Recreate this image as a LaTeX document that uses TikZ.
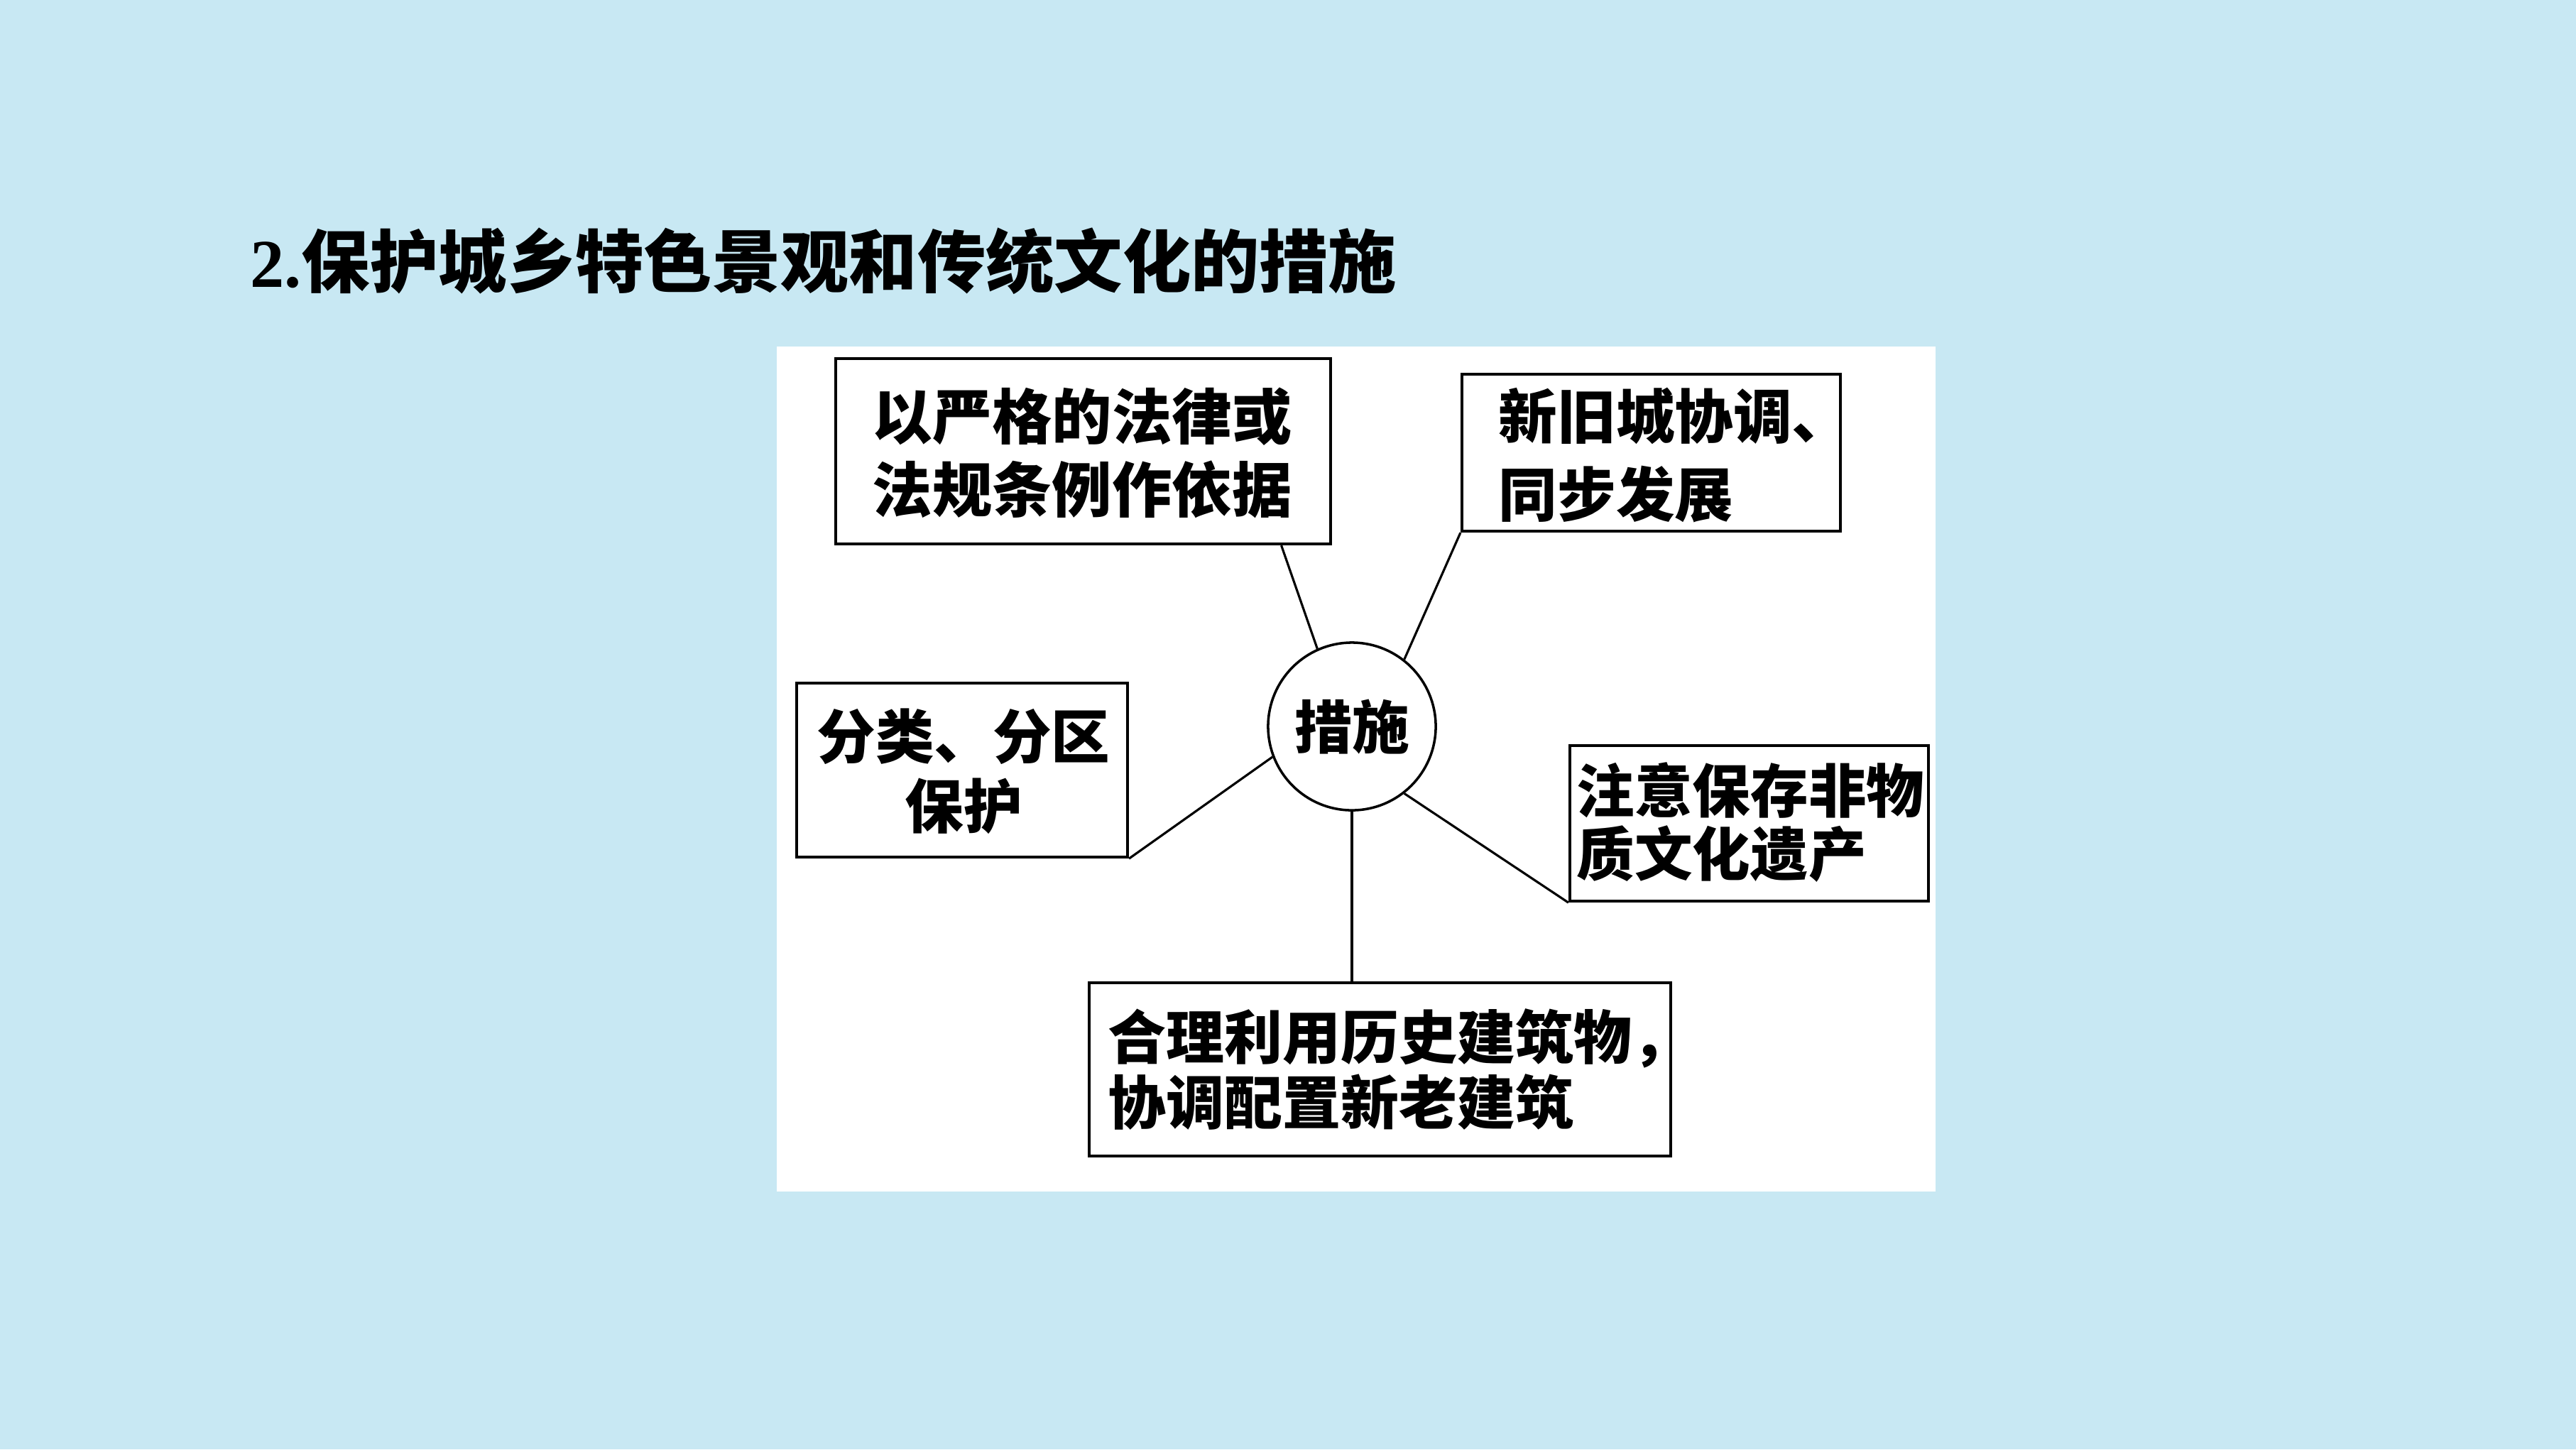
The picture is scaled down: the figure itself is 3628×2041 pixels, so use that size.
\documentclass[tikz,border=0pt]{standalone}
\usepackage{fontspec}
\setmainfont{Liberation Serif}
\newfontfamily\cjk{Noto Sans CJK SC}
\usetikzlibrary{calc,fit}
\definecolor{bgblue}{RGB}{200,232,243}
\begin{document}
\begin{tikzpicture}[x=0.01cm,y=-0.01cm,
  box/.style={draw=black,line width=1.2pt,fill=white,inner sep=0pt},
  conn/.style={draw=black,line width=0.9pt},
  txt/.style={inner sep=0pt,text=black},
  title/.style={inner sep=0pt,text=black,font={\fontsize{27.4pt}{32pt}\selectfont}}]
\fill[bgblue] (0,0) rectangle (3628,2041);
\useasboundingbox (0,0) rectangle (3628,2041);
\fill[white] (1094,488) rectangle (2726,1678);
% title
\node[title,anchor=base west] (ttl) at (352,404) {\bfseries 2.\cjk 保护城乡特色景观和传统文化的措施};
% boxes
\node[box,fit={(1177,505) (1874,766)}] (b1) {};
\node[box,fit={(2059,527) (2592,748)}] (b2) {};
\node[box,fit={(1122,962) (1588,1207)}] (b3) {};
\node[box,fit={(2211,1050) (2716,1269)}] (b4) {};
\node[box,fit={(1534,1384) (2353,1628)}] (b5) {};
\node[draw=black,line width=1pt,circle,fill=white,minimum size=2.36cm,inner sep=0pt] (c) at (1904,1023) {};
% texts
\node[txt,align=center,font={\cjk\bfseries\fontsize{24pt}{29.2pt}\selectfont}] (t1) at (1524,638) {以严格的法律或\\法规条例作依据};
\node[txt,align=left,anchor=west,font={\cjk\bfseries\fontsize{23.5pt}{31.5pt}\selectfont}] (t2) at (2110,641) {新旧城协调、\\同步发展};
\node[txt,align=center,font={\cjk\bfseries\fontsize{23.5pt}{27.8pt}\selectfont}] (t3) at (1357,1086) {分类、分区\\保护};
\node[txt,align=left,anchor=west,font={\cjk\bfseries\fontsize{23.2pt}{25.2pt}\selectfont}] (t4) at (2220,1158) {注意保存非物\\质文化遗产};
\node[txt,align=left,anchor=west,font={\cjk\bfseries\fontsize{23.3pt}{26.4pt}\selectfont}] (t5) at (1560,1506) {合理利用历史建筑物，\\协调配置新老建筑};
\node[txt,font={\cjk\bfseries\fontsize{23pt}{26pt}\selectfont}] (tc) at (c.center) {措施};
% connectors
\draw[conn] ($(b1.south west)!0.898!(b1.south east)$) -- (c.114.7);
\draw[conn] (b2.south west) -- (c.52);
\draw[conn] (b3.south east) -- (c.201.7);
\draw[conn] (b4.south west) -- (c.-52.7);
\draw[conn] (c.south) -- (c.south |- b5.north);
\end{tikzpicture}
\end{document}
